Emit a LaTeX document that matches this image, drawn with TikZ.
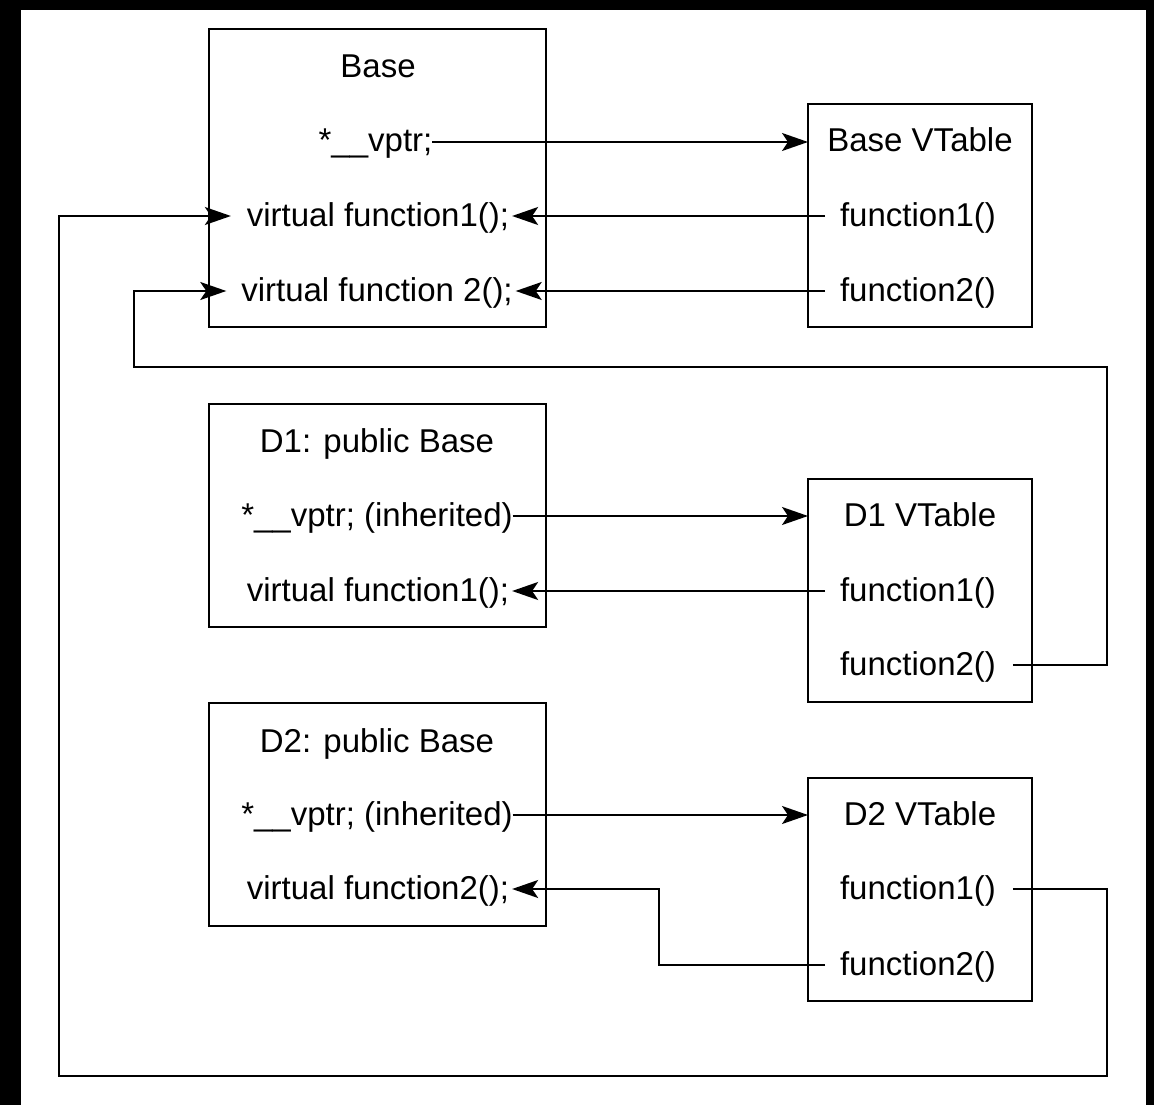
\documentclass[tikz,border=0pt]{standalone}
\usepackage{fontspec}
\setmainfont{Liberation Sans}
\usetikzlibrary{arrows.meta}
\begin{document}
\begin{tikzpicture}[x=1pt,y=-1pt,
  box/.style={draw,line width=1.8pt,inner sep=0pt,outer sep=0pt},
  cls/.style={box,minimum width=337pt,minimum height=223pt},
  vt/.style={box,minimum width=224pt,minimum height=223pt},
  txt/.style={font=\fontsize{33}{38}\selectfont,inner sep=0pt,outer sep=0pt,text height=20pt,text depth=0pt},
  arr/.style={line width=1.8pt,-{Stealth[length=26pt,width=18pt,inset=6pt,fill=black]}}]
\useasboundingbox (0,0) rectangle (1154,1105);
\fill[black] (0,0) rectangle (1154,1105);
\fill[white] (21,10) rectangle (1146,1105);

% boxes
\node[box,minimum width=337pt,minimum height=298pt] (base) at (377.5,178) {};
\node[vt] (bvt) at (920,215.5) {};
\node[cls] (d1) at (377.5,515.5) {};
\node[vt] (d1vt) at (920,590.5) {};
\node[cls] (d2) at (377.5,814.5) {};
\node[vt] (d2vt) at (920,889.5) {};

% Base texts
\node[txt] (bt) at (378,68) {Base};
\node[txt] (bp) at (375.5,142) {*\_\_vptr;};
\node[txt] (bf1) at (378,216) {virtual function1();};
\node[txt] (bf2) at (377,291) {virtual function 2();};
\node[txt] (bvtt) at (920,142) {Base VTable};
\node[txt] (bvf1) at (918,216) {function1()};
\node[txt] (bvf2) at (918,291) {function2()};

% D1 texts
\node[txt] (d1t) at (377,442) {D1: public Base};
\node[txt] (d1p) at (377,516) {*\_\_vptr; (inherited)};
\node[txt] (d1f1) at (378,591) {virtual function1();};
\node[txt] (d1vtt) at (920,516) {D1 VTable};
\node[txt] (d1vf1) at (918,591) {function1()};
\node[txt] (d1vf2) at (918,665) {function2()};

% D2 texts
\node[txt] (d2t) at (377,742) {D2: public Base};
\node[txt] (d2p) at (377,815) {*\_\_vptr; (inherited)};
\node[txt] (d2f2) at (378,889) {virtual function2();};
\node[txt] (d2vtt) at (920,815) {D2 VTable};
\node[txt] (d2vf1) at (918,889) {function1()};
\node[txt] (d2vf2) at (918,965) {function2()};

% connectors
\draw[arr] (bp.east) -- (bvt.west |- bp.east);
\draw[arr] ([xshift=-15pt]bvf1.west) -- ([xshift=3pt]bf1.east);
\draw[arr] ([xshift=-15pt]bvf2.west) -- ([xshift=3pt]bf2.east);

\draw[arr] (d1p.east) -- (d1vt.west |- d1p.east);
\draw[arr] ([xshift=-15pt]d1vf1.west) -- ([xshift=3pt]d1f1.east);
\draw[arr] ([xshift=17pt]d1vf2.east) -| (1107,367) -| (134,291) -- ([xshift=-15pt]bf2.west);

\draw[arr] (d2p.east) -- (d2vt.west |- d2p.east);
\draw[arr] ([xshift=-15pt]d2vf2.west) -| (659,889) -- ([xshift=3pt]d2f2.east);
\draw[arr] ([xshift=17pt]d2vf1.east) -| (1107,1076) -| (59,216) -- ([xshift=-16pt]bf1.west);
\end{tikzpicture}
\end{document}
